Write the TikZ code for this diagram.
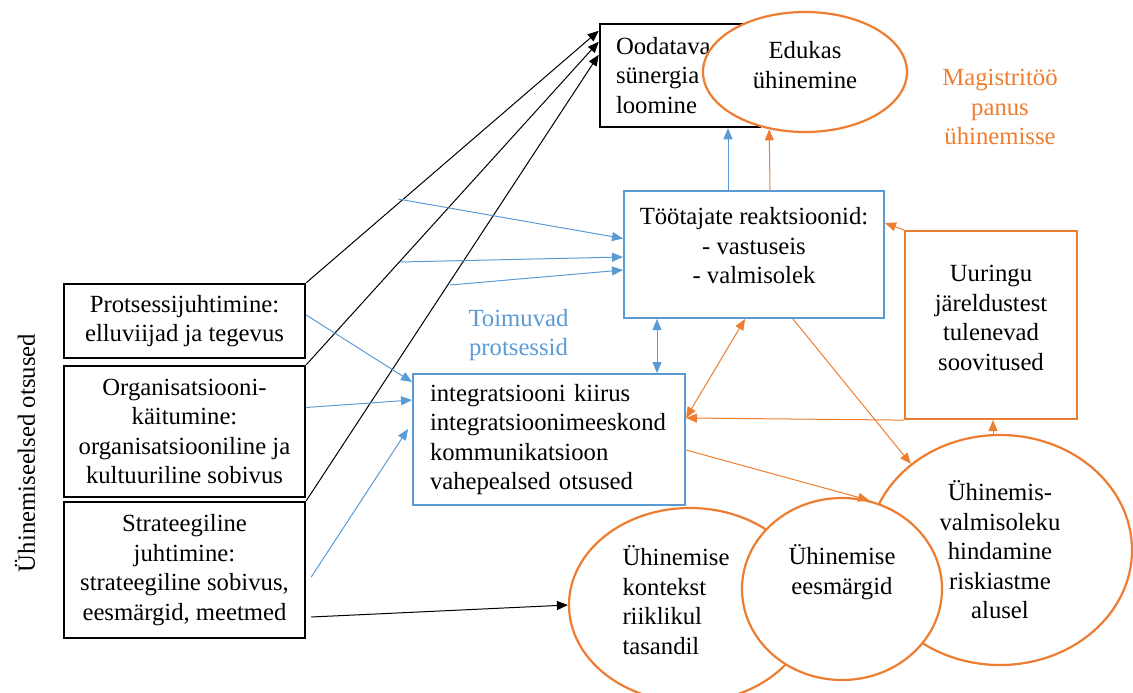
\documentclass[tikz,border=0pt]{standalone}
\usepackage{fontspec}
\setmainfont{Liberation Serif}
\usetikzlibrary{arrows.meta,shapes.geometric}
\definecolor{accblue}{RGB}{91,155,213}
\definecolor{accorange}{RGB}{237,125,49}

\begin{document}
\begin{tikzpicture}[x=1pt, y=-1pt, font=\fontsize{24.7}{29.5}\selectfont,
    >={Triangle[length=11pt,width=9pt]},
    box/.style={rectangle, draw, line width=2.5pt, inner sep=0pt, align=center},
    bluebox/.style={rectangle, draw=accblue, line width=2pt, inner sep=0pt},
    orangebox/.style={rectangle, draw=accorange, line width=2.2pt, inner sep=0pt, align=center},
    oval/.style={ellipse, draw=accorange, line width=2.2pt, fill=white, inner sep=0pt, align=center},
    blk/.style={->, black, line width=1pt},
    blu/.style={->, accblue, line width=1pt},
    org/.style={->, accorange, line width=1pt}]
        \useasboundingbox (0,0) rectangle (1133,693);
        % Nodes
        \node[box, text width=128pt, align=left, inner xsep=16pt, minimum height=103pt] (synergy) at (680,75.5) {Oodatava\\sünergia\\loomine};
        \node[oval, text depth=14pt, minimum width=204pt, minimum height=120pt] (edukas) at (805,72) {Edukas\\ühinemine};
        \node[accorange, align=center] (panus) at (1000,107) {Magistritöö\\panus\\ühinemisse};
        \node[bluebox, align=center, text depth=18pt, minimum width=260pt, minimum height=127pt] (reakts) at (754,254.5) {Töötajate reaktsioonid:\\- vastuseis\\- valmisolek};
        \node[orangebox, text depth=14pt, minimum width=172pt, minimum height=188pt] (uuringu) at (991,325) {Uuringu\\järeldustest\\tulenevad\\soovitused};
        \node[accblue, align=center] (toimuvad) at (518.5,335) {Toimuvad\\protsessid};
        \node[bluebox, text width=238pt, align=left, inner xsep=17pt, minimum height=131pt] (integr) at (549,439.5) {integratsiooni kiirus\\integratsioonimeeskond\\kommunikatsioon\\vahepealsed otsused};
        \node[box, minimum width=241pt, minimum height=74pt] (procm) at (184.5,321) {Protsessijuhtimine:\\elluviijad ja tegevus};
        \node[box, minimum width=241pt, minimum height=131pt] (orgb) at (184.5,431.5) {Organisatsiooni-\\käitumine:\\organisatsiooniline ja\\kultuuriline sobivus};
        \node[box, minimum width=241pt, minimum height=136pt] (strat) at (184.5,570) {Strateegiline\\juhtimine:\\strateegiline sobivus,\\eesmärgid, meetmed};
        \node[rotate=90] (eelsed) at (25,453) {Ühinemiseelsed otsused};
        \node[oval, minimum width=264pt, minimum height=230pt] (valmis) at (1000,550) {Ühinemis-\\valmisoleku\\hindamine\\riskiastme\\alusel};
        \node[oval, minimum width=242pt, minimum height=194pt] (ctx) at (690,605) {};
        \node[oval, minimum width=200pt, minimum height=182pt] (goals) at (842,589) {};
        \node[align=left] (ctxtext) at (676,600) {Ühinemise\\kontekst\\riiklikul\\tasandil};
        \node[align=center] (goalstext) at (842,572) {Ühinemise\\eesmärgid};
        % Arrows
        \coordinate (b1) at (398,199);
        \coordinate (b2) at (400,262);
        \coordinate (b3) at (450,285);
        \draw[blk] (procm.north east) -- ([yshift=-8pt]synergy.north west);
        \draw[blk] (orgb.north east) -- ([yshift=-19pt]synergy.north west);
        \draw[blk] (strat.north east) -- ([yshift=-32pt]synergy.north west);
        \draw[blk] ([xshift=5pt,yshift=-47pt]strat.east) -- (ctx.west);
        \draw[blu] (b1) -- ([yshift=16pt]reakts.west);
        \draw[blu] (b2) -- ([yshift=-2.5pt]reakts.west);
        \draw[blu] (b3) -- ([yshift=-15.5pt]reakts.west);
        \draw[blu] ([yshift=6pt]procm.east) -- ([yshift=-9pt]integr.north west);
        \draw[blu] ([yshift=24pt]orgb.east) -- ([yshift=-27pt]integr.north west);
        \draw[blu] ([xshift=5pt,yshift=-7pt]strat.east) -- ([xshift=-4pt,yshift=-56pt]integr.north west);
        \draw[blu,<->] ([xshift=-97pt]reakts.south) -- ([xshift=-97pt]reakts.south |- integr.north);
        \draw[blu] ([xshift=-26pt]reakts.north) -- ([xshift=-26pt]reakts.north |- synergy.south);
        \draw[org] ([xshift=16pt]reakts.north) -- (edukas.-122);
        \draw[org,<->] ([yshift=21.5pt]integr.east) -- ([xshift=-9pt]reakts.south);
        \draw[org] (uuringu.north west) -- ([yshift=31.5pt]reakts.east);
        \draw[org] (uuringu.south west) -- ([yshift=21.5pt]integr.east);
        \draw[org] ([xshift=39pt]reakts.south) -- (valmis.136);
        \draw[org] ([yshift=-10.5pt]integr.east) -- (goals.73);
        \draw[org] ([xshift=-7pt]valmis.north) -- ([xshift=-7pt]valmis.north |- uuringu.south);
    \end{tikzpicture}
\end{document}
